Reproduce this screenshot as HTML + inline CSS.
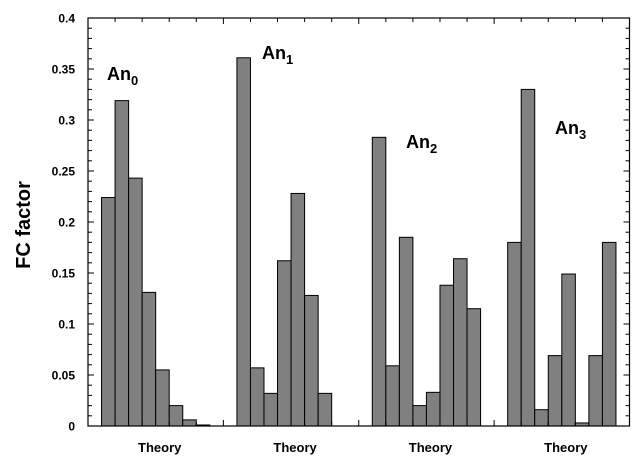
<!DOCTYPE html>
<html><head><meta charset="utf-8"><style>
html,body{margin:0;padding:0;background:#fff;}
svg{display:block;font-family:"Liberation Sans",Arial,sans-serif;font-weight:bold;}
</style></head><body>
<svg id="chart" width="640" height="464" viewBox="0 0 640 464"></svg>
<script>
const groupNames = ["0","1","2","3"];
const group0 = [0.224, 0.319, 0.243, 0.131, 0.055, 0.020, 0.006, 0.001];
const group1 = [0.361, 0.057, 0.032, 0.162, 0.228, 0.128, 0.032, 0];
const group2 = [0.283, 0.059, 0.185, 0.020, 0.033, 0.138, 0.164, 0.115];
const group3 = [0.180, 0.330, 0.016, 0.069, 0.149, 0.003, 0.069, 0.180];
const yTickLabels = ["0","0.05","0.1","0.15","0.2","0.25","0.3","0.35","0.4"];
const categoryLabels = ["Theory","Theory","Theory","Theory"];

const NS = "http://www.w3.org/2000/svg";
const svg = document.getElementById("chart");
const L = 88, R = 629.5, T = 18, B = 426;
const yMax = 0.4, slots = 40;
const y = v => B - (v / yMax) * (B - T);
const x = s => L + s * (R - L) / slots;

function mk(tag, attrs, parent) {
  const e = document.createElementNS(NS, tag);
  for (const k in attrs) e.setAttribute(k, attrs[k]);
  (parent || svg).appendChild(e);
  return e;
}

const groups = [group0, group1, group2, group3];
groups.forEach((vals, gi) => {
  const g = mk("g", {});
  
  
  vals.forEach((v, i) => {
    const s = gi * 10 + 1 + i;
    const r = mk("rect", {x: x(s), y: y(v), width: x(s + 1) - x(s), height: B - y(v), fill: "#808080", stroke: "#000", "stroke-width": 1}, g);
    
    
  });
});

// frame
const frame = mk("rect", {x: L, y: T, width: R - L, height: B - T, fill: "none", stroke: "#000", "stroke-width": 1.2});



// y ticks
for (let k = 0; k <= 40; k++) {
  const v = k * 0.01, yy = y(v), major = k % 5 === 0, len = major ? 6 : 4;
  mk("line", {x1: L, x2: L + len, y1: yy, y2: yy, stroke: "#000", "stroke-width": 1});
  mk("line", {x1: R, x2: R - len, y1: yy, y2: yy, stroke: "#000", "stroke-width": 1});
}
yTickLabels.forEach((lab, i) => {
  const t = mk("text", {x: 75, y: y(i * 0.05) + 4.5, "text-anchor": "end", "font-size": 12});
  t.textContent = lab;
  
  
});
// x ticks
for (let s = 2; s < 40; s += 2) {
  const major = s % 10 === 0, len = major ? 6 : 4;
  mk("line", {x1: x(s), x2: x(s), y1: B, y2: B - len, stroke: "#000", "stroke-width": 1});
  mk("line", {x1: x(s), x2: x(s), y1: T, y2: T + len, stroke: "#000", "stroke-width": 1});
}
categoryLabels.forEach((lab, i) => {
  const t = mk("text", {x: x(i * 10 + 5) + 4, y: 452, "text-anchor": "middle", "font-size": 13});
  t.textContent = lab;
  
  
});

// y title
const yt = mk("text", {x: 0, y: 0, transform: "translate(30,225) rotate(-90)", "text-anchor": "middle", "font-size": 20});
yt.textContent = "FC factor";



// group annotations
const annPos = [[107, 80], [262, 59], [406, 148], [555, 134]];
annPos.forEach((p, i) => {
  const t = mk("text", {x: p[0], y: p[1], "font-size": 18});
  
  
  const a = mk("tspan", {}, t); a.textContent = "An";
  const b = mk("tspan", {dy: 5, "font-size": 13}, t); b.textContent = groupNames[i];
});
</script>
</body></html>
